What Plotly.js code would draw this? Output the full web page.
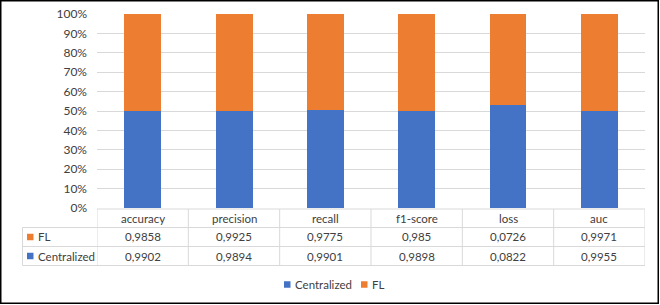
<!DOCTYPE html>
<html>
<head>
<meta charset="utf-8">
<script src="https://cdn.plot.ly/plotly-3.0.1.min.js"></script>
<style>
html,body{margin:0;padding:0;background:#fff;}
#chart{width:660px;height:305px;}
</style>
</head>
<body>
<div id="chart"></div>
<script>
const categories = ['accuracy', 'precision', 'recall', 'f1-score', 'loss', 'auc'];
const seriesNames = ['Centralized', 'FL'];
const centralized = [0.9902, 0.9894, 0.9901, 0.9898, 0.0822, 0.9955];
const fl = [0.9858, 0.9925, 0.9775, 0.985, 0.0726, 0.9971];

const W = 660, H = 305;
const M = {l: 97, r: 15, t: 14, b: 97};
const PW = W - M.l - M.r, PH = H - M.t - M.b;
const px = x => (x - M.l) / PW;
const py = y => (H - M.b - y) / PH;

const BLUE = '#4472C4', ORANGE = '#ED7D31', TXT = '#404040', GRID = '#D9D9D9';
const FONT = 'Lato, "Open Sans", sans-serif';
const fmt = v => String(v).replace('.', ',');

const traces = [
  {type: 'bar', name: seriesNames[0], x: categories, y: centralized, marker: {color: BLUE}, hoverinfo: 'skip'},
  {type: 'bar', name: seriesNames[1], x: categories, y: fl, marker: {color: ORANGE}, hoverinfo: 'skip'}
];

const shapes = [];
const annotations = [];
const line = {color: GRID, width: 1};

// table horizontal lines
const rowY = [209, 227.5, 246.5, 265.5];
shapes.push({type: 'line', xref: 'x', yref: 'paper', x0: -0.5, x1: categories.length - 0.5, y0: py(rowY[0]), y1: py(rowY[0]), line});
for (let i = 1; i < rowY.length; i++) {
  shapes.push({type: 'line', xref: 'paper', yref: 'paper', x0: px(22.5), x1: 1, y0: py(rowY[i]), y1: py(rowY[i]), line});
}
// vertical lines
for (let i = 0; i <= categories.length; i++) {
  shapes.push({type: 'line', xref: 'x', yref: 'paper', x0: i - 0.5, x1: i - 0.5, y0: py(rowY[0]), y1: py(rowY[3]), line});
}
shapes.push({type: 'line', xref: 'paper', yref: 'paper', x0: px(22.5), x1: px(22.5), y0: py(rowY[1]), y1: py(rowY[3]), line});

// header row & values
const rowCenters = [218.5, 237, 256];
categories.forEach((c, i) => {
  annotations.push({xref: 'x', yref: 'paper', x: i, y: py(rowCenters[0]), text: c, showarrow: false, font: {family: FONT, size: 11.5, color: TXT}, xanchor: 'center', yanchor: 'middle'});
  annotations.push({xref: 'x', yref: 'paper', x: i, y: py(rowCenters[1]), text: fmt(fl[i]), showarrow: false, font: {family: FONT, size: 11.5, color: TXT}, xanchor: 'center', yanchor: 'middle'});
  annotations.push({xref: 'x', yref: 'paper', x: i, y: py(rowCenters[2]), text: fmt(centralized[i]), showarrow: false, font: {family: FONT, size: 11.5, color: TXT}, xanchor: 'center', yanchor: 'middle'});
});

// row headers with keys
function key(x, yc, color) {
  shapes.push({type: 'rect', xref: 'paper', yref: 'paper', x0: px(x), x1: px(x + 6.5), y0: py(yc - 3.25), y1: py(yc + 3.25), fillcolor: color, line: {width: 0}});
}
key(27, rowCenters[1], ORANGE);
annotations.push({xref: 'paper', yref: 'paper', x: px(35.5), y: py(rowCenters[1]), text: seriesNames[1], showarrow: false, font: {family: FONT, size: 11.5, color: TXT}, xanchor: 'left', yanchor: 'middle'});
key(27, rowCenters[2], BLUE);
annotations.push({xref: 'paper', yref: 'paper', x: px(35.5), y: py(rowCenters[2]), text: seriesNames[0], showarrow: false, font: {family: FONT, size: 11.5, color: TXT}, xanchor: 'left', yanchor: 'middle'});

// bottom legend
const legY = 284.5;
key(284, legY, BLUE);
annotations.push({xref: 'paper', yref: 'paper', x: px(292.5), y: py(legY), text: seriesNames[0], showarrow: false, font: {family: FONT, size: 11.5, color: TXT}, xanchor: 'left', yanchor: 'middle'});
key(361, legY, ORANGE);
annotations.push({xref: 'paper', yref: 'paper', x: px(370), y: py(legY), text: seriesNames[1], showarrow: false, font: {family: FONT, size: 11.5, color: TXT}, xanchor: 'left', yanchor: 'middle'});

// outer border
shapes.push({type: 'rect', xref: 'paper', yref: 'paper', x0: px(0.75), x1: px(658.25), y0: py(0.75), y1: py(303.25), line: {color: '#000', width: 1.5}, fillcolor: 'rgba(0,0,0,0)', layer: 'above'});

const layout = {
  width: W, height: H,
  margin: M,
  paper_bgcolor: '#fff', plot_bgcolor: '#fff',
  barmode: 'stack', barnorm: 'percent', bargap: 0.595,
  showlegend: false,
  font: {family: FONT, size: 12, color: TXT},
  xaxis: {type: 'category', range: [-0.5, categories.length - 0.5], showticklabels: false, showgrid: false, zeroline: false, showline: false, ticks: ''},
  yaxis: {range: [0, 100], dtick: 10, ticksuffix: '%', showgrid: true, gridcolor: GRID, gridwidth: 1, zeroline: false, showline: false, ticks: '', ticklabelstandoff: 9, tickfont: {family: FONT, size: 12, color: TXT}},
  shapes, annotations
};

Plotly.newPlot('chart', traces, layout, {staticPlot: true, displayModeBar: false});
</script>
</body>
</html>
